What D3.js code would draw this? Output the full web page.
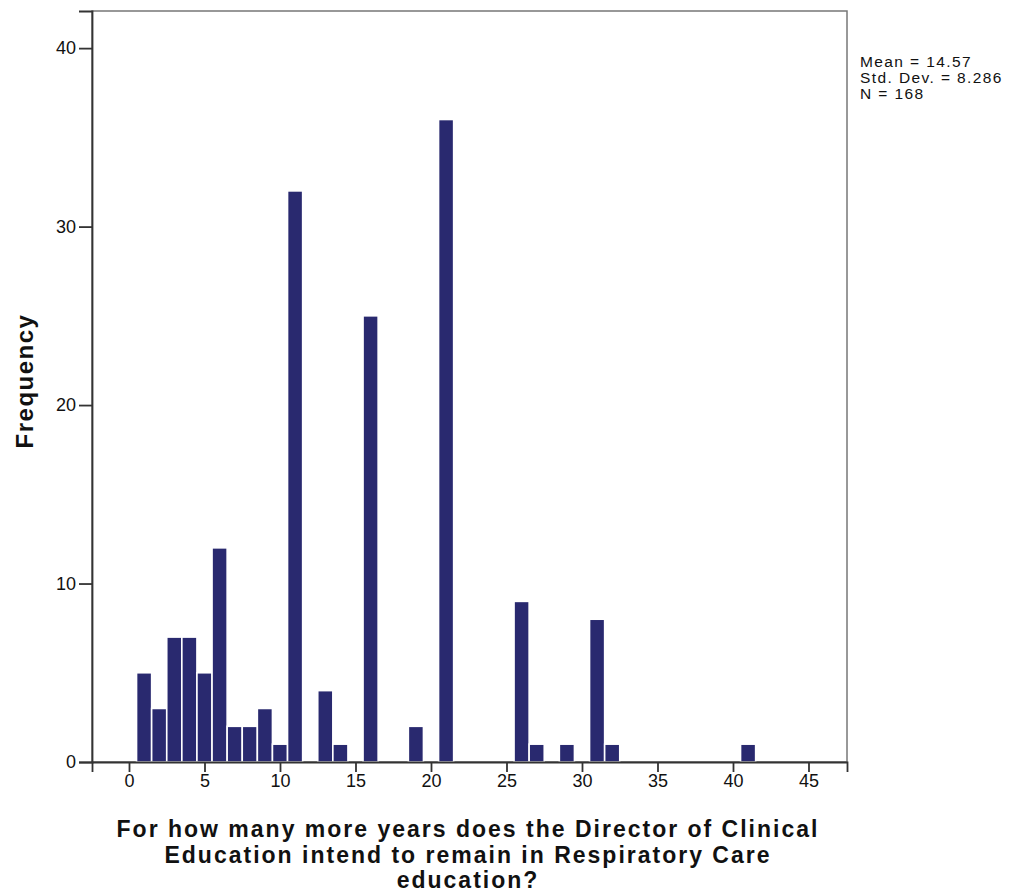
<!DOCTYPE html>
<html>
<head>
<meta charset="utf-8">
<script src="https://cdn.jsdelivr.net/npm/d3@7/dist/d3.min.js"></script>
<style>
  html, body { margin: 0; padding: 0; background: #fff; }
  svg { display: block; font-family: 'Liberation Sans', Arial, sans-serif; }
</style>
</head>
<body>
<div id="chart"></div>
<script>
// Years remaining (bin centre) and frequency per bin
const years = [1, 2, 3, 4, 5, 6, 7, 8, 9, 10, 11, 13, 14, 16, 19, 21, 26, 27, 29, 31, 32, 41];
const counts = [5, 3, 7, 7, 5, 12, 2, 2, 3, 1, 32, 4, 1, 25, 2, 36, 9, 1, 1, 8, 1, 1];
const xTicks = [0, 5, 10, 15, 20, 25, 30, 35, 40, 45];
const yTicks = [0, 10, 20, 30, 40];
const statsLines = ['Mean = 14.57', 'Std. Dev. = 8.286', 'N = 168'];
const xTitleLines = [
  'For how many more years does the Director of Clinical',
  'Education intend to remain in Respiratory Care',
  'education?',
];
const yTitle = 'Frequency';

const W = 1016, H = 894;
const frame = { left: 92, top: 11, right: 847, bottom: 762 };

const svg = d3.select('#chart').append('svg')
  .attr('width', W).attr('height', H);

const x = d3.scaleLinear().domain([-2.45, 47.55]).range([frame.left, frame.right]);
const y = d3.scaleLinear().domain([0, 42.08]).range([frame.bottom, frame.top]);

// plot frame (top/right lighter than the axes)
svg.append('rect')
  .attr('x', frame.left).attr('y', frame.top)
  .attr('width', frame.right - frame.left).attr('height', frame.bottom - frame.top)
  .attr('fill', 'none')
  .attr('stroke', '#777')
  .attr('stroke-width', 1.5);

// bars
const rows = years.map((v, i) => ({ v, n: counts[i] }));
svg.selectAll('.bar')
  .data(rows)
  .enter()
  .append('rect')
  .attr('x', (d) => x(d.v - 0.5))
  .attr('width', (d) => x(d.v + 0.5) - x(d.v - 0.5))
  .attr('y', (d) => y(d.n))
  .attr('height', (d) => y(0) - y(d.n))
  .attr('fill', '#29296f')
  .attr('stroke', '#fff')
  .attr('stroke-width', 1.6);

// axes
const xAxis = d3.axisBottom(x).tickValues(xTicks).tickSize(10).tickPadding(2);
const yAxis = d3.axisLeft(y).tickValues(yTicks).tickSize(13).tickPadding(3);

const gx = svg.append('g').attr('transform', `translate(0,${frame.bottom})`).call(xAxis);
const gy = svg.append('g').attr('transform', `translate(${frame.left},0)`).call(yAxis);
[gx, gy].forEach((g) => {
  g.attr('font-size', null).attr('font-family', null);
  g.select('.domain').attr('stroke', '#333').attr('stroke-width', 1.8);
  g.selectAll('.tick line').attr('stroke', '#333').attr('stroke-width', 1.8);
  g.selectAll('.tick text')
    .style('font-size', '18px')
    .style('font-family', "'Liberation Sans', Arial, sans-serif")
    .attr('fill', '#111');
});

// y title
svg.append('text')
  .attr('transform', 'translate(33,381) rotate(-90)')
  .attr('text-anchor', 'middle')
  .style('font-size', '24px')
  .style('letter-spacing', '1.5px')
  .attr('font-weight', 'bold')
  .attr('fill', '#111')
  .text(yTitle);

// x title
svg.append('text')
  .attr('text-anchor', 'middle')
  .style('font-size', '23px')
  .style('letter-spacing', '2px')
  .attr('font-weight', 'bold')
  .attr('fill', '#111')
  .selectAll('tspan')
  .data(xTitleLines)
  .enter()
  .append('tspan')
  .attr('x', 468)
  .attr('y', (d, i) => 837 + i * 25.5)
  .text((d) => d);

// stats box text
svg.append('text')
  .style('font-size', '15.5px')
  .style('letter-spacing', '1.4px')
  .attr('fill', '#111')
  .selectAll('tspan')
  .data(statsLines)
  .enter()
  .append('tspan')
  .attr('x', 860)
  .attr('y', (d, i) => 67 + i * 16)
  .text((d) => d);
</script>
</body>
</html>
